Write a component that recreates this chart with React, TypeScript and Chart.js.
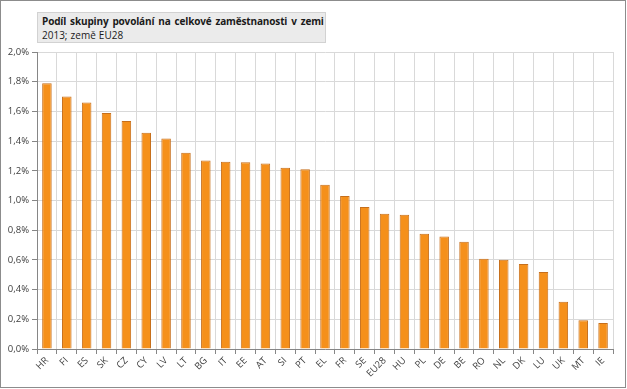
import React, { useEffect, useRef } from "react";
import { Chart, registerables } from "chart.js";

Chart.register(...registerables);

const categories = ["HR","FI","ES","SK","CZ","CY","LV","LT","BG","IT","EE","AT","SI","PT","EL","FR","SE","EU28","HU","PL","DE","BE","RO","NL","DK","LU","UK","MT","IE"];
const values = [1.79,1.70,1.66,1.59,1.535,1.457,1.418,1.322,1.27,1.261,1.257,1.25,1.221,1.21,1.106,1.03,0.956,0.911,0.904,0.776,0.758,0.723,0.608,0.601,0.572,0.519,0.319,0.193,0.175];
const titleText = "Podíl skupiny povolání na celkové zaměstnanosti v zemi";
const subtitleText = "2013; země EU28";
const yMax = 2.0;
const yStep = 0.2;

const FONT = "'Open Sans', 'Noto Sans', sans-serif";

export default function App() {
  const ref = useRef<HTMLCanvasElement | null>(null);

  useEffect(() => {
    document.body.style.margin = "0";
    const canvas = ref.current;
    if (!canvas) return;
    const chart = new Chart(canvas, {
      type: "bar",
      data: {
        labels: categories,
        datasets: [
          {
            data: values,
            backgroundColor: "#F5901B",
            borderColor: "#C66F1C",
            borderWidth: 1,
            barPercentage: 0.48,
            categoryPercentage: 1,
          },
        ],
      },
      options: {
        animation: false,
        responsive: false,
        maintainAspectRatio: false,
        layout: { padding: { left: 0, right: 14, top: 52, bottom: 0 } },
        plugins: { legend: { display: false }, title: { display: false }, tooltip: { enabled: false } },
        scales: {
          x: {
            grid: { color: "#d9d9d9", lineWidth: 1, offset: true, drawTicks: true, tickLength: 5, tickColor: "#868686" },
            border: { color: "#868686", width: 1 },
            ticks: {
              color: "#404040",
              font: { family: FONT, size: 9.5 },
              maxRotation: 45,
              minRotation: 45,
              autoSkip: false,
              padding: 1,
            },
            afterFit: (s: any) => { s.height = 40; },
          },
          y: {
            min: 0,
            max: yMax,
            grid: { color: "#d9d9d9", lineWidth: 1, drawTicks: true, tickLength: 5, tickColor: "#868686" },
            border: { color: "#868686", width: 1 },
            ticks: {
              stepSize: yStep,
              color: "#404040",
              font: { family: FONT, size: 9.5 },
              padding: 3,
              callback: (v: any) => Number(v).toFixed(1).replace(".", ",") + "%",
            },
            afterFit: (s: any) => { s.width = 37; },
          },
        },
      },
    });
    return () => chart.destroy();
  }, []);

  return (
    <div style={{ position: "relative", width: 627, height: 389, background: "#fff", overflow: "hidden" }}>
      <canvas ref={ref} width={627} height={389} style={{ position: "absolute", left: 0, top: 0, width: 627, height: 389 }} />
      <div
        style={{
          position: "absolute",
          left: 37,
          top: 12,
          width: 289,
          height: 31,
          boxSizing: "border-box",
          background: "#ebebeb",
          border: "1px solid #d2d2d2",
          fontFamily: FONT,
          color: "#1a1a1a",
          padding: "1px 0 0 4px",
          lineHeight: "14px",
        }}
      >
        <div style={{ fontWeight: 700, fontSize: 10, whiteSpace: "nowrap", wordSpacing: 1.5, letterSpacing: -0.15 }}>{titleText}</div>
        <div style={{ fontSize: 10, whiteSpace: "nowrap", wordSpacing: 0.5 }}>{subtitleText}</div>
      </div>
      <div
        style={{
          position: "absolute",
          left: 0,
          top: 0,
          width: 626,
          height: 388,
          boxSizing: "border-box",
          border: "1px solid #8c8c8c",
          pointerEvents: "none",
        }}
      />
    </div>
  );
}
